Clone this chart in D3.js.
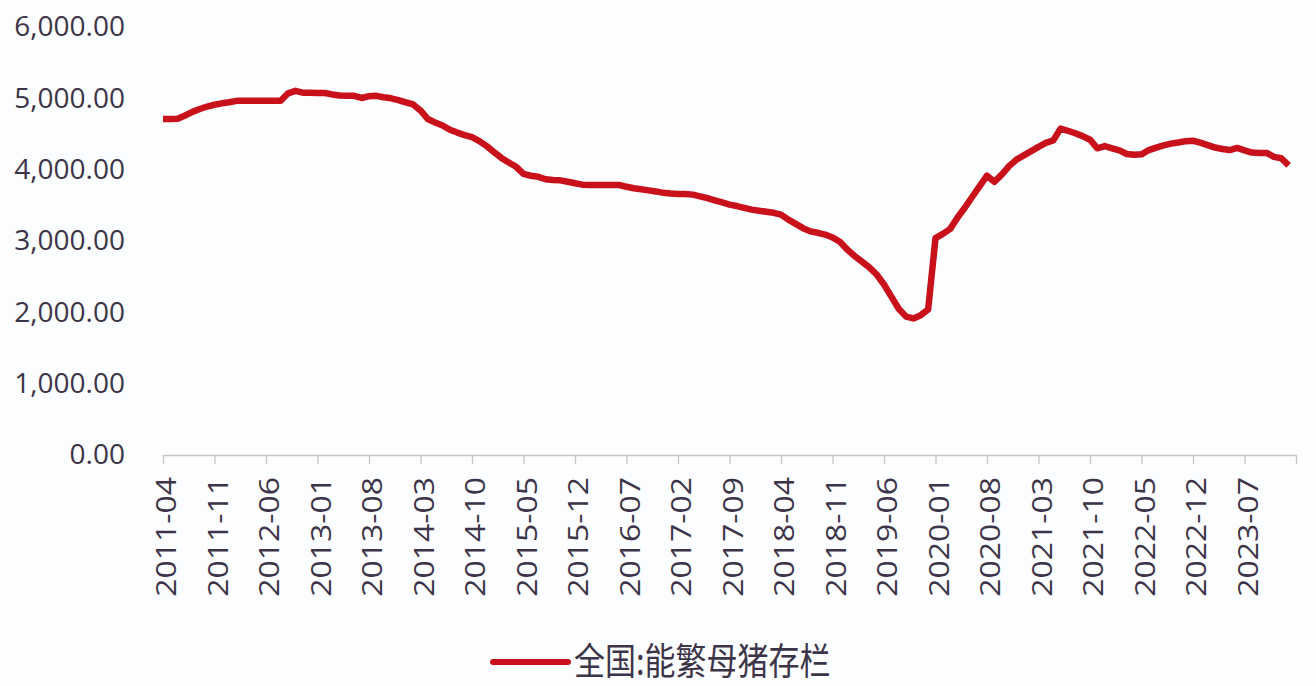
<!DOCTYPE html>
<html>
<head>
<meta charset="utf-8">
<script src="https://cdn.jsdelivr.net/npm/d3@7"></script>
<style>
  body { margin: 0; background: #fcfdfe; }
  svg { display: block; }
</style>
</head>
<body>
<script>
// 全国:能繁母猪存栏, monthly from 2011-04 to 2024-01 (万头)
var startMonth = "2011-04";
var seriesName = "全国:能繁母猪存栏";
var sows = [
  4710, 4710, 4715, 4760, 4810, 4850, 4885, 4910, 4930,              // 2011-04 .. 2011-12
  4945, 4965, 4965, 4965, 4965, 4965, 4965, 4965, 5070, 5105, 5080, 5078, // 2012
  5075, 5075, 5055, 5040, 5035, 5035, 5005, 5030, 5035, 5015, 5000, 4975, // 2013
  4945, 4915, 4830, 4710, 4660, 4620, 4560, 4520, 4485, 4455, 4400, 4330, // 2014
  4245, 4165, 4100, 4040, 3940, 3915, 3900, 3865, 3855, 3850, 3830, 3810, // 2015
  3790, 3785, 3785, 3785, 3785, 3785, 3760, 3740, 3725, 3710, 3695, 3675, // 2016
  3665, 3660, 3660, 3650, 3625, 3600, 3570, 3540, 3510, 3490, 3465, 3440, // 2017
  3425, 3410, 3395, 3370, 3300, 3240, 3180, 3135, 3115, 3090, 3050, 2990, // 2018
  2880, 2790, 2710, 2630, 2530, 2390, 2220, 2050, 1940, 1915, 1960, 2040, // 2019
  3040, 3100, 3170, 3330, 3470, 3620, 3770, 3915, 3830, 3930, 4050, 4140, // 2020
  4200, 4260, 4320, 4375, 4410, 4575, 4545, 4510, 4470, 4420, 4300, 4330, // 2021
  4300, 4270, 4220, 4210, 4215, 4275, 4310, 4340, 4365, 4380, 4400, 4405, // 2022
  4380, 4345, 4310, 4290, 4275, 4305, 4270, 4240, 4235, 4235, 4180, 4160, // 2023
  4060                                                                // 2024-01
];
var yTicks = [0, 1000, 2000, 3000, 4000, 5000, 6000];
var xTickLabels = ["2011-04", "2011-11", "2012-06", "2013-01", "2013-08", "2014-03",
  "2014-10", "2015-05", "2015-12", "2016-07", "2017-02", "2017-09", "2018-04",
  "2018-11", "2019-06", "2020-01", "2020-08", "2021-03", "2021-10", "2022-05",
  "2022-12", "2023-07"];

var width = 1316, height = 686;
var margin = {top: 27, left: 163, right: 20, bottom: 231};

var parseMonth = d3.timeParse("%Y-%m"),
    fmtMonth = d3.timeFormat("%Y-%m");
var t0 = parseMonth(startMonth);
var months = sows.map(function(d, i) { return fmtMonth(d3.timeMonth.offset(t0, i)); });

var svg = d3.select("body")
            .append("svg")
            .attr("width", width)
            .attr("height", height);

// one extra slot at the end of the axis, as in the source chart
var x = d3.scaleLinear()
          .domain([0, months.length])
          .range([margin.left, width - margin.right]);

var y = d3.scaleLinear()
          .domain([0, 6000])
          .range([height - margin.bottom + 0 - 0, margin.top]);

var textColor = "#3c3448";

// x axis
var tickIdx = xTickLabels.map(function(l) { return months.indexOf(l); });
tickIdx.push(months.length);

var xAxis = svg.append("g")
   .attr("transform", "translate(0," + y(0) + ")")
   .call(d3.axisBottom(x)
           .tickValues(tickIdx)
           .tickSize(9)
           .tickSizeOuter(0)
           .tickFormat(function(i) { return i < months.length ? months[i] : ""; }));

xAxis.select(".domain").attr("stroke", "#c6c6c6").attr("stroke-width", 1.3);
xAxis.selectAll(".tick line").attr("stroke", "#c6c6c6").attr("stroke-width", 1.3);
xAxis.selectAll(".tick text")
     .attr("x", 0)
     .attr("y", 0)
     .attr("dy", "0.35em")
     .attr("transform", "translate(3,22) rotate(-90) scale(1.14,1)")
     .style("text-anchor", "end")
     .style("font-family", "'Open Sans', sans-serif")
     .style("font-size", "28px")
     .attr("fill", textColor);

// y axis (labels only)
var yAxis = svg.append("g")
   .attr("transform", "translate(" + margin.left + ",0)")
   .call(d3.axisLeft(y)
           .tickValues(yTicks)
           .tickSize(0)
           .tickPadding(38)
           .tickFormat(d3.format(",.2f")));

yAxis.select(".domain").remove();
yAxis.selectAll(".tick text")
     .style("font-family", "'Open Sans', sans-serif")
     .style("font-size", "28px")
     .attr("fill", textColor);

// series line
var line = d3.line()
             .x(function(d, i) { return x(i); })
             .y(function(d) { return y(d); });

svg.append("path")
   .datum(sows)
   .attr("fill", "none")
   .attr("stroke", "#c8111b")
   .attr("stroke-width", 6.5)
   .attr("stroke-linejoin", "round")
   .attr("d", line);

// legend
var legend = svg.append("g")
   .attr("transform", "translate(493,662)");

legend.append("line")
   .attr("x1", 0)
   .attr("x2", 75)
   .attr("stroke", "#c8111b")
   .attr("stroke-width", 6)
   .attr("stroke-linecap", "round");

legend.append("text")
   .attr("x", 0)
   .attr("dy", "0.36em")
   .attr("transform", "translate(81,0) scale(1,1.2)")
   .style("font-family", "'Noto Sans CJK SC', sans-serif")
   .style("font-size", "31px")
   .attr("fill", textColor)
   .text(seriesName);
</script>
</body>
</html>
